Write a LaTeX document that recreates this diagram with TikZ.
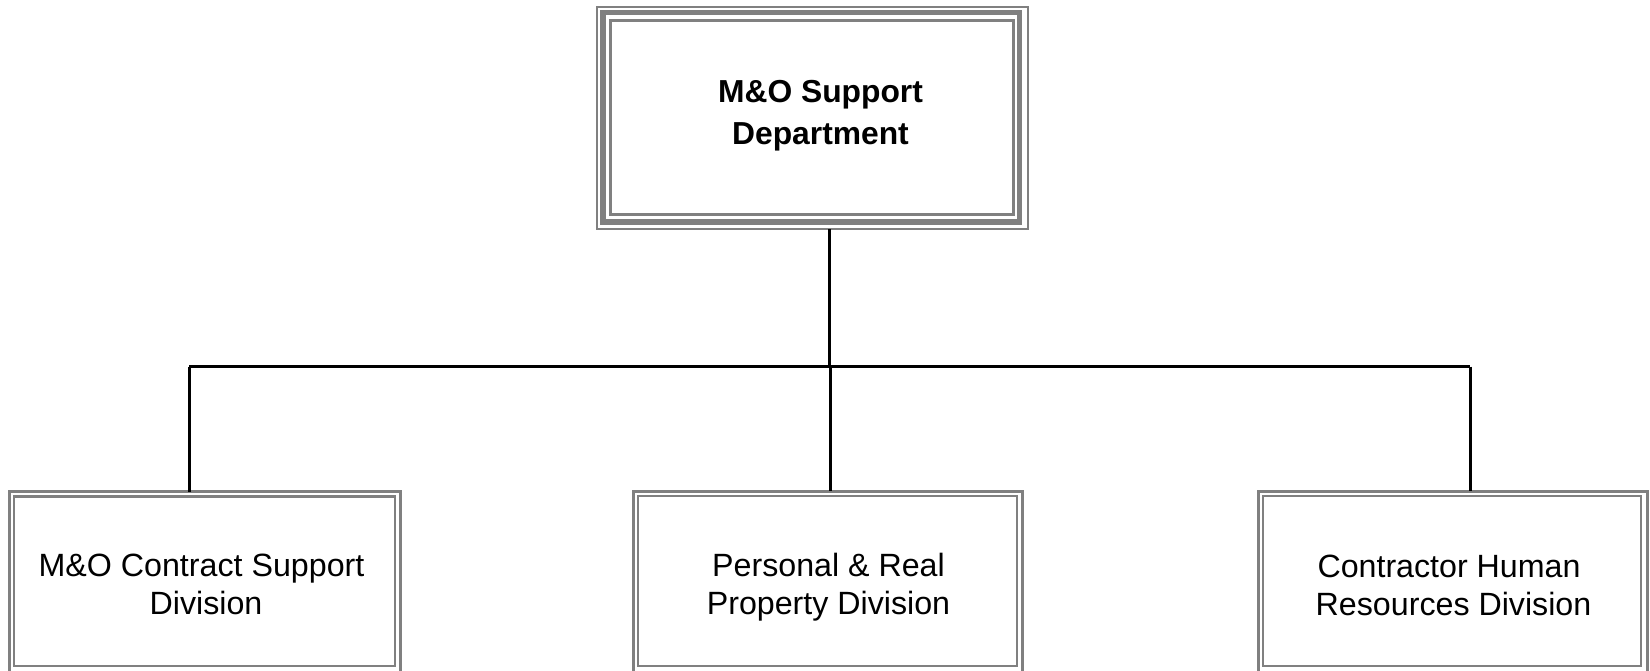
\documentclass[tikz,border=0pt]{standalone}
\usepackage{fontspec}
\setmainfont{Liberation Sans}
\definecolor{framegray}{RGB}{128,128,128}
\tikzset{
  outerframe/.style={draw=framegray, line width=3pt, inner sep=0pt, outer sep=0pt, rectangle},
  innerframe/.style={draw=framegray, line width=2.5pt},
  conn/.style={draw=black, line width=3pt},
  label/.style={anchor=base, inner sep=0pt, font={\fontsize{32.2pt}{37.8pt}\selectfont}},
  toplabel/.style={anchor=base, inner sep=0pt, font={\fontsize{31.8pt}{42pt}\selectfont\bfseries}}
}
\begin{document}
\begin{tikzpicture}[x=1pt,y=-1pt]
\useasboundingbox (0,0) rectangle (1650,671);
\clip (0,0) rectangle (1650,671);
\fill[white] (0,0) rectangle (1650,671);

% top box (triple frame)
\node[outerframe, line width=2pt, minimum width=430.7pt, minimum height=222.5pt] (top) at (812.35,118.25) {};
\draw[draw=framegray, line width=5.5pt] (603,12.5) rectangle (1019.7,222);
\draw[draw=framegray, line width=3pt] (610.5,20.5) rectangle (1013,214.3);
\node[toplabel] (toptext) at (820.5,102.7) {\begin{tabular}[t]{@{}c@{}}M\&O Support\\Department\end{tabular}};

% bottom boxes (double frames)
\node[outerframe, minimum width=391pt, minimum height=184.5pt] (L) at (205,583.75) {};
\draw[innerframe] (14,496.5) rectangle (395,666);
\node[label] (Ltext) at (206,576.7) {\begin{tabular}[t]{@{}c@{}}M\&O Contract Support\ \mbox{}\\Division\end{tabular}};

\node[outerframe, minimum width=389pt, minimum height=185pt] (M) at (828,583.5) {};
\draw[innerframe] (638,496) rectangle (1017,666);
\node[label] (Mtext) at (828.5,576.7) {\begin{tabular}[t]{@{}c@{}}Personal \& Real\\Property Division\end{tabular}};

\node[outerframe, minimum width=389pt, minimum height=185pt] (R) at (1453,583.5) {};
\draw[innerframe] (1263,496) rectangle (1641,666);
\node[label] (Rtext) at (1453.5,577.3) {\begin{tabular}[t]{@{}c@{}}Contractor Human\ \mbox{}\\Resources Division\end{tabular}};

% connectors
\coordinate (bj) at (829,366.5);
\coordinate (bl) at (189,366.5);
\coordinate (bm) at (830,366.5);
\coordinate (br) at (1470,366.5);
\draw[conn] (top.south -| bj) -- (bj);
\draw[conn] (bl) -- (br);
\draw[conn] (bl) -- (bl |- L.north);
\draw[conn] (bm) -- (bm |- M.north);
\draw[conn] (br) -- (br |- R.north);
\end{tikzpicture}
\end{document}
